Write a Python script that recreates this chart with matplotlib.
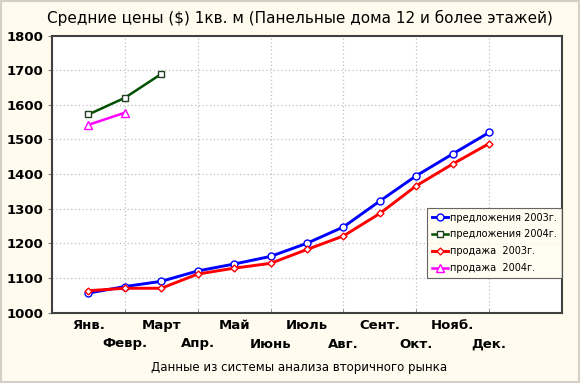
import matplotlib
matplotlib.use("Agg")
import matplotlib.pyplot as plt
from matplotlib.patches import Rectangle

months = ["Янв.", "Февр.", "Март", "Апр.", "Май", "Июнь", "Июль", "Авг.", "Сент.", "Окт.", "Нояб.", "Дек."]
offer_2003 = [1056, 1075, 1090, 1120, 1140, 1162, 1200, 1247, 1322, 1395, 1458, 1520]
sale_2003 = [1063, 1070, 1070, 1111, 1128, 1142, 1182, 1221, 1286, 1366, 1429, 1488]
offer_2004 = [1572, 1620, 1689]
sale_2004 = [1542, 1577]
yticks = [1000, 1100, 1200, 1300, 1400, 1500, 1600, 1700, 1800]

W, H = 580, 383
fig = plt.figure(figsize=(W / 100, H / 100), dpi=100)
bg = "#FFFCEF"
fig.patch.set_facecolor(bg)
fig.patches.append(Rectangle((0, 0), 1, 1, transform=fig.transFigure, fill=False,
                             edgecolor="#D4D0C8", linewidth=3, zorder=10))

left, right, top, bottom = 52, 562, 35.5, 312.5
ax = fig.add_axes([left / W, 1 - bottom / H, (right - left) / W, (bottom - top) / H])
ax.set_facecolor("white")

x = list(range(1, 13))
ax.plot(x, offer_2003, color="#0000FF", lw=2.1, marker="o", ms=5, mfc="white", mec="#0000FF", mew=1.0,
        label="предложения 2003г.", zorder=4)
ax.plot(x[:3], offer_2004, color="#005000", lw=1.8, marker="s", ms=5, mfc="white", mec="#204020", mew=1.0,
        label="предложения 2004г.", zorder=4)
ax.plot(x, sale_2003, color="#FF0000", lw=2.1, marker="D", ms=3.5, mfc="white", mec="#FF0000", mew=1.0,
        label="продажа  2003г.", zorder=4)
ax.plot(x[:2], sale_2004, color="#FF00FF", lw=1.8, marker="^", ms=5.5, mfc="white", mec="#FF00FF", mew=1.0,
        label="продажа  2004г.", zorder=4)

ax.set_xlim(0, 14)
ax.set_ylim(1000, 1800)
ax.set_yticks(yticks)
ax.set_yticklabels([str(v) for v in yticks], fontweight="bold", fontsize=9.5)

odd = x[0::2]
even = x[1::2]
ax.set_xticks(odd)
ax.set_xticklabels(months[0::2], fontweight="bold", fontsize=9.5)
ax.set_xticks(even, minor=True)
ax.set_xticklabels(months[1::2], minor=True, fontweight="bold", fontsize=9.5)
ax.tick_params(axis="x", which="major", length=0, pad=5)
ax.tick_params(axis="x", which="minor", length=3, direction="in", color="#808080", pad=18)
ax.tick_params(axis="y", length=3, color="#808080", pad=3)
ax.grid(axis="y", which="major", color="#C0C0C0", linestyle=(0, (1, 2)), lw=0.9)
ax.grid(axis="x", which="major", visible=False)
ax.grid(axis="x", which="minor", color="#C0C0C0", linestyle=(0, (1, 2)), lw=0.9)
ax.set_axisbelow(True)
for s in ax.spines.values():
    s.set_color("#404040")
    s.set_linewidth(1.5)

leg = ax.legend(loc="lower right", bbox_to_anchor=(1.0, 0.125), fontsize=7, frameon=True,
                fancybox=False, borderpad=0.5, handlelength=1.7, handletextpad=0.2,
                labelspacing=0.7, borderaxespad=0)
leg.get_frame().set_edgecolor("#404040")
leg.get_frame().set_facecolor("#FFFCEF")
leg.get_frame().set_linewidth(0.8)

fig.text(0.517, 1 - 18 / H, "Средние цены ($) 1кв. м (Панельные дома 12 и более этажей)",
         ha="center", va="center", fontsize=11)
fig.text(0.515, 1 - 367 / H, "Данные из системы анализа вторичного рынка",
         ha="center", va="center", fontsize=8.5)

fig.savefig("out.png", dpi=100, facecolor=bg)
